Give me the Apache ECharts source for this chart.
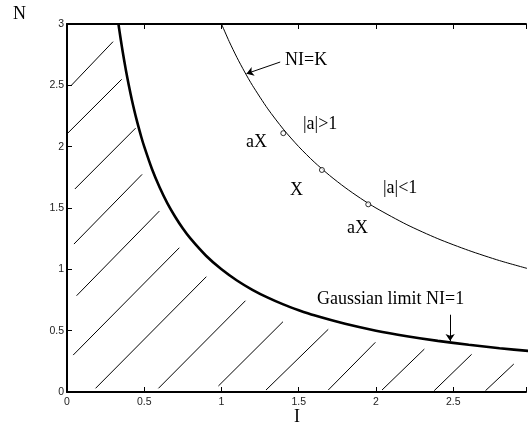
<!DOCTYPE html>
<html>
<head>
<meta charset="utf-8">
<script src="https://cdn.jsdelivr.net/npm/echarts@6/dist/echarts.min.js"></script>
<style>
html,body{margin:0;padding:0;background:#fff;}
#chart{width:529px;height:425px;}
</style>
</head>
<body>
<div id="chart"></div>
<script>
// Tick labels
const xTicks = [0, 0.5, 1, 1.5, 2, 2.5];
const yTicks = [0, 0.5, 1, 1.5, 2, 2.5, 3];
const xMax = 2.971;   // the picture is cut just before I = 3
const yMax = 3;

// Gaussian limit NI=1 (thick curve)
const limitI = [0.333, 0.34, 0.35, 0.36, 0.38, 0.4, 0.42, 0.45, 0.48, 0.5, 0.55, 0.6, 0.65, 0.7, 0.75, 0.8, 0.9, 1.0, 1.1, 1.2, 1.3, 1.4, 1.5, 1.6, 1.8, 2.0, 2.2, 2.4, 2.6, 2.8, 3.0];
const limitN = [3.0, 2.94, 2.857, 2.778, 2.632, 2.5, 2.381, 2.222, 2.083, 2.0, 1.818, 1.667, 1.538, 1.429, 1.333, 1.25, 1.111, 1.0, 0.909, 0.833, 0.769, 0.714, 0.667, 0.625, 0.556, 0.5, 0.455, 0.417, 0.385, 0.357, 0.333];

// NI=K curve (thin)
const kI = [1.0, 1.05, 1.1, 1.15, 1.2, 1.3, 1.4, 1.5, 1.6, 1.7, 1.8, 1.9, 2.0, 2.2, 2.4, 2.6, 2.8, 3.0];
const kN = [3.0, 2.857, 2.727, 2.609, 2.5, 2.308, 2.143, 2.0, 1.875, 1.765, 1.667, 1.579, 1.5, 1.364, 1.25, 1.154, 1.071, 1.0];

// Marked points on NI=K
const pointI = [1.40, 1.65, 1.95];
const pointN = [2.11, 1.81, 1.53];

// Hatch segments (start / end)
const hatchX0 = [0.026, 0.004, 0.051, 0.045, 0.062, 0.040, 0.185, 0.592, 0.980, 1.288, 1.691, 2.039, 2.377, 2.709];
const hatchY0 = [2.497, 2.109, 1.655, 1.206, 0.785, 0.301, 0.030, 0.030, 0.049, 0.016, 0.016, 0.016, 0.011, 0.011];
const hatchX1 = [0.298, 0.354, 0.444, 0.486, 0.598, 0.727, 0.902, 1.155, 1.398, 1.691, 1.996, 2.313, 2.619, 2.892];
const hatchY1 = [2.856, 2.549, 2.151, 1.774, 1.475, 1.176, 0.940, 0.744, 0.573, 0.511, 0.405, 0.350, 0.307, 0.228];

// Annotation arrows (from -> to)
const arrowFromI = [1.38, 2.48];
const arrowFromN = [2.69, 0.63];
const arrowToI = [1.162, 2.48];
const arrowToN = [2.595, 0.415];

const zip = (a, b) => a.map((v, i) => [v, b[i]]);

const chart = echarts.init(document.getElementById('chart'), null, {renderer: 'canvas'});

const serif = '"Liberation Serif", "Times New Roman", serif';
const sans = '"Liberation Sans", Helvetica, Arial, sans-serif';

const hatchSeries = hatchX0.map((x, i) => ({
  type: 'line',
  data: [[x, hatchY0[i]], [hatchX1[i], hatchY1[i]]],
  symbol: 'none',
  lineStyle: {color: '#000', width: 1},
  silent: true,
  z: 2
}));

const axisCommon = {
  type: 'value',
  min: 0,
  interval: 0.5,
  splitLine: {show: false},
  axisLine: {show: true, onZero: false, lineStyle: {color: '#000', width: 2}},
  axisTick: {show: true, inside: true, length: 5, lineStyle: {color: '#000', width: 1}},
};

const option = {
  animation: false,
  backgroundColor: '#fff',
  grid: {left: 67, right: 0, top: 24, bottom: 33, containLabel: false},
  xAxis: [
    Object.assign({}, axisCommon, {
      max: xMax,
      position: 'bottom',
      axisLabel: {
        show: true, margin: 5, color: '#222', fontFamily: sans, fontSize: 10.5,
        formatter: v => (xTicks.indexOf(v) >= 0 ? String(v) : '')
      }
    }),
    Object.assign({}, axisCommon, {
      max: xMax,
      position: 'top',
      axisLabel: {show: false}
    })
  ],
  yAxis: [
    Object.assign({}, axisCommon, {
      max: yMax,
      position: 'left',
      axisLabel: {
        show: true, margin: 3, color: '#222', fontFamily: sans, fontSize: 10.5,
        formatter: v => (yTicks.indexOf(v) >= 0 ? String(v) : '')
      }
    })
  ],
  series: [
    ...hatchSeries,
    {
      type: 'line',
      data: zip(limitI, limitN),
      smooth: 0.25,
      symbol: 'none',
      lineStyle: {color: '#000', width: 2.6},
      z: 3
    },
    {
      type: 'line',
      data: zip(kI, kN),
      smooth: 0.25,
      symbol: 'none',
      lineStyle: {color: '#000', width: 1},
      z: 3
    },
    {
      type: 'scatter',
      data: zip(pointI, pointN),
      symbol: 'circle',
      symbolSize: 5,
      itemStyle: {color: '#fff', borderColor: '#000', borderWidth: 1},
      z: 4
    },
    {
      type: 'lines',
      coordinateSystem: 'cartesian2d',
      data: arrowFromI.map((x, i) => ({coords: [[x, arrowFromN[i]], [arrowToI[i], arrowToN[i]]]})),
      symbol: ['none', 'arrow'],
      symbolSize: [0, 7],
      lineStyle: {color: '#000', width: 1, opacity: 1},
      z: 5
    }
  ],
  graphic: [
    {type: 'text', left: 13, top: 5, style: {text: 'N', font: '18px ' + serif, fill: '#000'}},
    {type: 'text', x: 297, y: 417, style: {text: 'I', font: '18px ' + serif, fill: '#000', textAlign: 'center', textVerticalAlign: 'middle'}},
    {type: 'text', x: 285, y: 60, style: {text: 'NI=K', font: '18px ' + serif, fill: '#000', textVerticalAlign: 'middle'}},
    {type: 'text', x: 303, y: 124, style: {text: '|a|>1', font: '18px ' + serif, fill: '#000', textVerticalAlign: 'middle'}},
    {type: 'text', x: 246, y: 142, style: {text: 'aX', font: '18px ' + serif, fill: '#000', textVerticalAlign: 'middle'}},
    {type: 'text', x: 290, y: 190, style: {text: 'X', font: '18px ' + serif, fill: '#000', textVerticalAlign: 'middle'}},
    {type: 'text', x: 383, y: 188, style: {text: '|a|<1', font: '18px ' + serif, fill: '#000', textVerticalAlign: 'middle'}},
    {type: 'text', x: 347, y: 228, style: {text: 'aX', font: '18px ' + serif, fill: '#000', textVerticalAlign: 'middle'}},
    {type: 'text', x: 317, y: 299, style: {text: 'Gaussian limit NI=1', font: '18px ' + serif, fill: '#000', textVerticalAlign: 'middle'}}
  ]
};

chart.setOption(option);
</script>
</body>
</html>
